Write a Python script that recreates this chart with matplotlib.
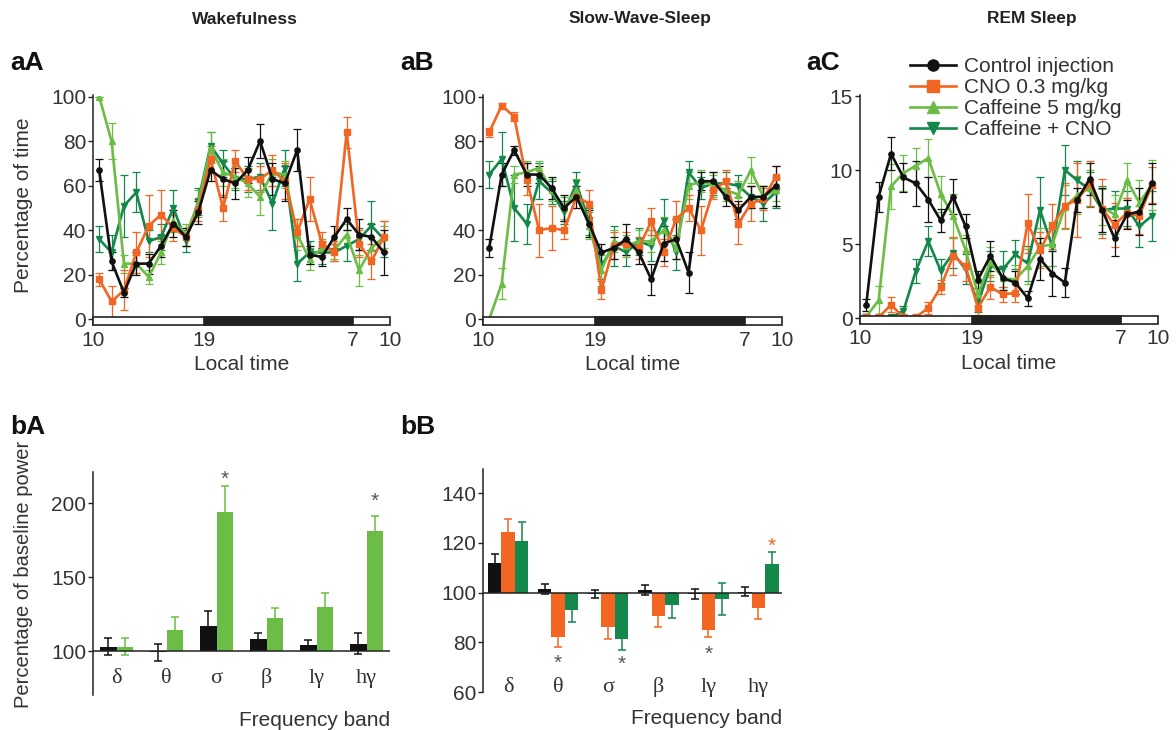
import numpy as np
import matplotlib.pyplot as plt
from matplotlib.patches import Rectangle
from matplotlib.lines import Line2D

plt.rcParams['font.family'] = ['Liberation Sans', 'DejaVu Sans']
SERIF = ['Liberation Serif', 'DejaVu Serif']

# hourly bins from 10:00 to 10:00 (hours since 10:00, bin centres)
hours = np.arange(24) + 0.5
time_ticks = [0, 9, 21, 24]
time_labels = ['10', '19', '7', '10']

groups = ['Control injection', 'CNO 0.3 mg/kg', 'Caffeine 5 mg/kg', 'Caffeine + CNO']

# --- Wakefulness, % of time
wake_ctrl = [67, 26, 12, 25, 25, 33, 43, 37, 48, 67, 63, 61, 67, 80, 63, 61, 76, 29, 28, 37, 45, 38, 37, 30]
wake_ctrl_err = [5, 4, 2, 5, 4.5, 5, 6, 4, 5, 5, 8, 7, 6, 7.5, 7, 8, 9.5, 4, 4, 5, 5, 7, 6, 10]
wake_cno = [18, 8, 13, 30, 42, 47, 41, 37, 49, 72, 50, 71, 63, 63, 67, 62, 39, 54, 34, 30, 84, 34, 26, 37]
wake_cno_err = [3, 7, 9, 9, 14, 11, 6, 4, 5, 6, 6, 5, 5, 6, 7, 8, 6, 10, 5, 4, 7, 6, 8, 7]
wake_caf = [100, 80, 25, 25, 19, 30, 44, 38, 52, 77, 66, 64, 61, 55, 66, 65, 38, 27, 32, 31, 38, 22, 32, 37]
wake_caf_err = [0, 8, 4, 4, 3, 5, 5, 5, 6, 7, 6, 5, 6, 8, 6, 6, 7, 5, 4, 4, 5, 7, 5, 5]
wake_cafcno = [36, 30, 51, 57, 35, 37, 50, 35, 53, 78, 70, 63, 63, 64, 52, 68, 25, 30, 30, 30, 33, 36, 42, 36]
wake_cafcno_err = [6, 8, 14, 9, 5, 6, 8, 5, 6, 6, 6, 5, 6, 6, 12, 8, 8, 5, 5, 4, 7, 5, 11, 8]

# --- Slow-wave sleep, % of time
sws_ctrl = [32, 65, 76, 65, 65, 59, 50, 55, 43, 30, 32, 36, 30, 18, 34, 36, 21, 62, 62, 55, 49, 55, 55, 60]
sws_ctrl_err = [4, 5, 2, 5, 4, 5, 6, 5, 6, 4, 5, 7, 5, 7, 8, 9, 9, 4, 4, 4, 4, 5, 5, 9]
sws_cno = [84, 96, 91, 63, 40, 41, 40, 55, 52, 13, 33, 34, 32, 44, 30, 45, 50, 40, 58, 62, 43, 52, 54, 64]
sws_cno_err = [2, 1, 2, 7, 12, 10, 4, 5, 6, 4, 6, 5, 5, 6, 6, 8, 6, 11, 4, 5, 9, 8, 5, 5]
sws_caf = [0, 16, 65, 66, 68, 58, 50, 58, 42, 22, 35, 33, 35, 35, 40, 32, 60, 62, 60, 58, 56, 67, 55, 58]
sws_caf_err = [0, 7, 4, 5, 3, 5, 5, 5, 6, 7, 5, 5, 5, 5, 6, 5, 6, 5, 5, 5, 6, 6, 5, 5]
sws_cafcno = [65, 72, 50, 43, 62, 57, 48, 61, 44, 24, 33, 30, 35, 33, 44, 30, 66, 59, 61, 61, 60, 55, 52, 57]
sws_cafcno_err = [6, 12, 15, 9, 8, 5, 5, 5, 6, 6, 9, 6, 6, 7, 10, 8, 5, 5, 5, 5, 5, 5, 8, 7]

# --- REM sleep, % of time
rem_ctrl = [0.9, 8.2, 11.1, 9.5, 9.1, 8.0, 6.6, 8.2, 6.2, 2.6, 4.2, 2.7, 2.4, 1.35, 4.0, 3.0, 2.4, 8.0, 9.4, 7.3, 5.4, 7.0, 7.2, 9.1]
rem_ctrl_err = [0.4, 1, 1.1, 1, 1.5, 1.5, 0.8, 1.2, 0.8, 0.6, 1, 0.8, 0.8, 0.5, 1.4, 1.5, 1, 0.8, 1.1, 1.5, 1.2, 1, 1.6, 1.4]
rem_cno = [0.05, 0.05, 0.9, 0.05, 0.05, 0.7, 2.1, 4.2, 3.5, 0.7, 2.1, 1.6, 1.7, 6.4, 4.6, 6.2, 7.6, 8.0, 9.1, 7.4, 6.3, 7.1, 6.9, 9.0]
rem_cno_err = [0.2, 0.2, 0.5, 0.2, 0.2, 0.4, 0.5, 1.3, 1, 0.5, 0.8, 0.5, 0.6, 2, 1.2, 1.5, 1.5, 2.5, 1.5, 2, 1.5, 1, 1.2, 1.2]
rem_caf = [0.1, 1.2, 8.9, 9.8, 10.3, 10.8, 8.4, 6.9, 4.6, 1.6, 3.8, 2.7, 2.6, 3.5, 4.8, 5.0, 7.5, 8.3, 8.8, 7.5, 7.0, 9.3, 7.8, 9.0]
rem_caf_err = [0.2, 1, 1.5, 1.2, 1.2, 1.3, 1.2, 1.5, 1, 0.8, 1, 0.8, 1, 1.2, 1.3, 1.5, 1.5, 1.3, 1.2, 1.2, 1.3, 1.2, 1.5, 1.7]
rem_cafcno = [0.05, 0.05, 0.05, 0.5, 3.2, 5.2, 3.2, 4.4, 3.3, 1.0, 3.5, 3.3, 4.3, 3.7, 7.3, 4.8, 10.0, 9.3, 8.7, 7.3, 7.4, 7.4, 6.2, 6.9]
rem_cafcno_err = [0.1, 0.1, 0.1, 0.3, 0.8, 1, 0.8, 1, 1, 0.6, 1, 1.2, 1, 1.2, 2.2, 1.3, 1.7, 1.3, 1.2, 1.6, 1.2, 1.2, 1.4, 1.7]

# --- EEG power, % of baseline
bands = ['δ', 'θ', 'σ', 'β', 'lγ', 'hγ']
bA_ctrl = [103, 99, 117, 108, 104, 105]
bA_ctrl_err = [6, 5.5, 10, 4, 3.5, 7]
bA_caf = [103, 114, 194, 122, 130, 181]
bA_caf_err = [5.5, 9, 17.5, 7, 9, 10.5]
bB_ctrl = [112, 101.5, 99.5, 101, 99.5, 100.3]
bB_ctrl_err = [3.5, 2, 1.6, 2, 2, 1.8]
bB_cno = [124.5, 82, 86, 90.5, 85, 94]
bB_cno_err = [5, 4, 4.5, 4.5, 3, 4.5]
bB_cafcno = [121, 93, 81.5, 95, 97.5, 111.5]
bB_cafcno_err = [7.5, 5, 4.5, 5, 6.5, 4.7]

BLACK = '#111111'
ORANGE = '#f26522'
LGREEN = '#6cbd45'
DGREEN = '#13884a'
TXT = '#333333'
FS = 15

fig = plt.figure(figsize=(11.76, 7.3), dpi=100)
W, H = 1176.0, 730.0


def axes_px(x0, x1, y0, y1):
    return fig.add_axes([x0 / W, 1 - y1 / H, (x1 - x0) / W, (y1 - y0) / H])


def time_panel(ax, data, ylim, yticks):
    for vals, errs, col, mk in data:
        ax.errorbar(hours, vals, yerr=errs, color=col, marker=mk, ms=3.8, lw=1.9,
                    elinewidth=0.9, capsize=2.6, capthick=0.9, ecolor=col)
    ax.set_xlim(0, 24)
    ax.set_ylim(*ylim)
    ax.set_yticks(yticks)
    ax.set_xticks(time_ticks)
    ax.set_xticklabels(time_labels)
    for s in ['top', 'right', 'bottom']:
        ax.spines[s].set_visible(False)
    ax.spines['left'].set_color('#222222')
    ax.spines['left'].set_linewidth(1.1)
    ax.tick_params(axis='x', length=0, pad=4, labelsize=FS, labelcolor=TXT)
    ax.tick_params(axis='y', length=3.5, width=1, pad=1.5, labelsize=FS, labelcolor=TXT, color='#222222')
    tr = ax.get_xaxis_transform()
    ax.add_patch(Rectangle((0, 0), 24, 0.034, transform=tr, facecolor='white',
                           edgecolor='#222222', lw=1.2, clip_on=False, zorder=6))
    ax.add_patch(Rectangle((9, 0), 12, 0.034, transform=tr, facecolor='#222222',
                           edgecolor='#222222', lw=1.2, clip_on=False, zorder=7))
    ax.set_xlabel('Local time', fontsize=FS, color=TXT, labelpad=4)


axA = axes_px(93, 390, 95.5, 325)
time_panel(axA, [(wake_cafcno, wake_cafcno_err, DGREEN, 'v'),
                 (wake_caf, wake_caf_err, LGREEN, '^'),
                 (wake_cno, wake_cno_err, ORANGE, 's'),
                 (wake_ctrl, wake_ctrl_err, BLACK, 'o')],
           (-2.56, 100.5), [0, 20, 40, 60, 80, 100])
axA.set_ylabel('Percentage of time', fontsize=FS, color=TXT)
axA.yaxis.set_label_coords((33 - 93) / 297, (325 - 205) / 229.5)

axB = axes_px(483, 782, 95.5, 325)
time_panel(axB, [(sws_cafcno, sws_cafcno_err, DGREEN, 'v'),
                 (sws_caf, sws_caf_err, LGREEN, '^'),
                 (sws_cno, sws_cno_err, ORANGE, 's'),
                 (sws_ctrl, sws_ctrl_err, BLACK, 'o')],
           (-2.56, 100.5), [0, 20, 40, 60, 80, 100])

axC = axes_px(860, 1158, 95.3, 323.8)
time_panel(axC, [(rem_cafcno, rem_cafcno_err, DGREEN, 'v'),
                 (rem_caf, rem_caf_err, LGREEN, '^'),
                 (rem_cno, rem_cno_err, ORANGE, 's'),
                 (rem_ctrl, rem_ctrl_err, BLACK, 'o')],
           (-0.385, 15.05), [0, 5, 10, 15])

handles = [Line2D([], [], color=c, marker=m, lw=1.9, ms=8)
           for c, m in [(BLACK, 'o'), (ORANGE, 's'), (LGREEN, '^'), (DGREEN, 'v')]]
leg = fig.legend(handles, groups, loc='upper left', bbox_to_anchor=(910 / W, 1 - 57 / H),
                 frameon=False, fontsize=FS, handlelength=2.2, handletextpad=0.4,
                 labelspacing=0.1, borderpad=0, borderaxespad=0)
for t in leg.get_texts():
    t.set_color(TXT)


def bar_axes(ax, ylim, yticks, label_y, band_y):
    ax.set_ylim(*ylim)
    ax.set_yticks(yticks)
    ax.set_xticks([])
    for s in ['top', 'right', 'bottom']:
        ax.spines[s].set_visible(False)
    ax.spines['left'].set_color('#222222')
    ax.spines['left'].set_linewidth(1.1)
    ax.tick_params(axis='y', length=3.5, width=1, pad=1.5, labelsize=FS, labelcolor=TXT, color='#222222')
    ax.axhline(100, color='#222222', lw=1.1, zorder=5)
    for i, b in enumerate(bands):
        ax.text(i, label_y, b, family=SERIF, fontsize=FS + 1, color=TXT, ha='center', va='center')
    ax.text(1.0, band_y, 'Frequency band', transform=ax.transAxes, fontsize=FS,
            color=TXT, ha='right', va='center')


ekw = dict(elinewidth=1.1, capsize=3.2, capthick=1.1)
x = np.arange(len(bands))

# bA: wakefulness power spectrum
axbA = axes_px(93, 390, 472, 695.4)
w = 0.33
axbA.bar(x - w / 2, np.array(bA_ctrl) - 100, w, bottom=100, color=BLACK,
         yerr=bA_ctrl_err, error_kw=dict(ecolor=BLACK, **ekw))
axbA.bar(x + w / 2, np.array(bA_caf) - 100, w, bottom=100, color=LGREEN,
         yerr=bA_caf_err, error_kw=dict(ecolor=LGREEN, **ekw))
axbA.set_xlim(-0.47, 5.47)
bar_axes(axbA, (70, 221), [100, 150, 200], 81.7, -(720 - 695.4) / 223.4)
axbA.set_ylabel('Percentage of baseline power', fontsize=14.5, color=TXT)
axbA.yaxis.set_label_coords((33 - 93) / 297, (695.4 - 574) / 223.4)
for xi, yi in [(2 + w / 2, 216), (5 + w / 2, 201)]:
    axbA.text(xi, yi, '*', fontsize=FS, color='#555555', ha='center', va='center')

# bB: slow-wave-sleep power spectrum
axbB = axes_px(483, 782, 468.5, 692)
w = 0.27
axbB.bar(x - w, np.array(bB_ctrl) - 100, w, bottom=100, color=BLACK,
         yerr=bB_ctrl_err, error_kw=dict(ecolor=BLACK, **ekw))
axbB.bar(x, np.array(bB_cno) - 100, w, bottom=100, color=ORANGE,
         yerr=bB_cno_err, error_kw=dict(ecolor=ORANGE, **ekw))
axbB.bar(x + w, np.array(bB_cafcno) - 100, w, bottom=100, color=DGREEN,
         yerr=bB_cafcno_err, error_kw=dict(ecolor=DGREEN, **ekw))
axbB.set_xlim(-0.5, 5.47)
bar_axes(axbB, (60, 150), [60, 80, 100, 120, 140], 62, -(719 - 692) / 223.5)
for xi, yi, c in [(1, 71.5, '#555555'), (2 + w, 71, '#555555'), (4, 75, '#555555'), (5 + w, 118.5, ORANGE)]:
    axbB.text(xi, yi, '*', fontsize=FS, color=c, ha='center', va='center')

# titles and panel letters
for xc, t in [(245, 'Wakefulness'), (640, 'Slow-Wave-Sleep'), (1032, 'REM Sleep')]:
    fig.text(xc / W, 1 - 19 / H, t, weight='bold', fontsize=12.5,
             ha='center', va='center', color='#222222')
for xl, yl, t in [(10, 70, 'aA'), (400, 70, 'aB'), (806, 70, 'aC'), (10, 434, 'bA'), (400, 434, 'bB')]:
    fig.text(xl / W, 1 - yl / H, t, weight='bold', fontsize=19,
             ha='left', va='baseline', color='#111111')

fig.savefig('out.png', dpi=100)
